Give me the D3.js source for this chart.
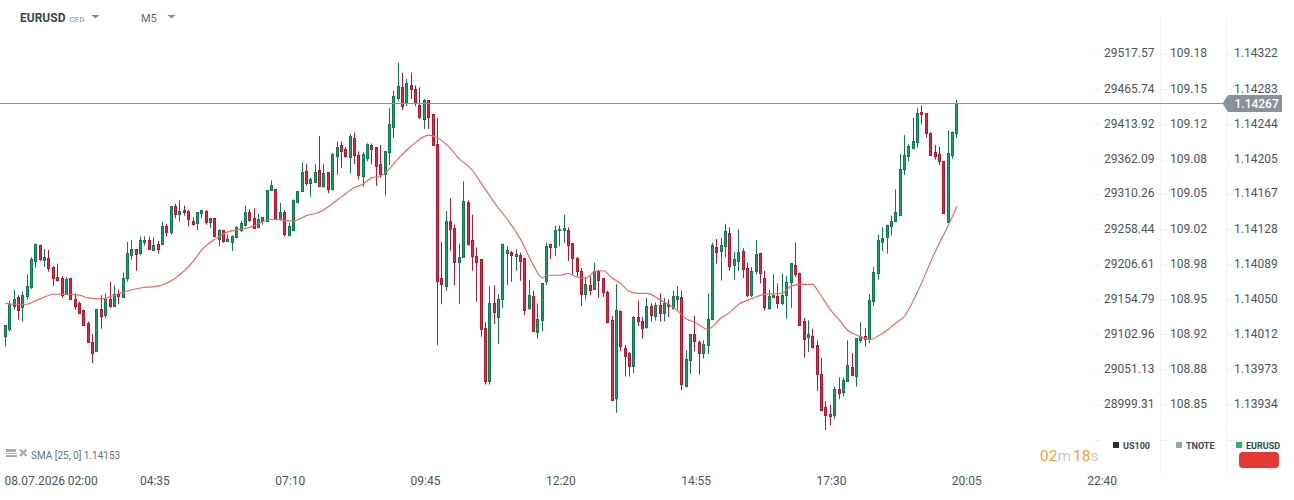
<!DOCTYPE html>
<html>
<head>
<meta charset="utf-8">
<title>EURUSD M5</title>
<script src="https://cdn.jsdelivr.net/npm/d3@7"></script>
<style>
  html, body { margin: 0; padding: 0; background: #fff; }
  svg { display: block; font-family: Roboto, sans-serif; }
</style>
</head>
<body>
<svg id="chart" width="1294" height="500"></svg>
<script>
// Five-minute EURUSD candles, one entry per bar, starting 08.07.2026 02:00.
const opens = [
1.14009,1.14017,1.14043,1.14052,1.14041,1.14053,1.14064,1.14092,1.14110,1.14093,
1.14096,1.14086,1.14075,1.14074,1.14056,1.14073,1.14050,1.14046,1.14038,1.14024,
1.14003,1.13993,1.14039,1.14032,1.14050,1.14043,1.14056,1.14052,1.14073,1.14099,
1.14105,1.14101,1.14113,1.14116,1.14104,1.14111,1.14111,1.14131,1.14124,1.14153,
1.14144,1.14149,1.14148,1.14137,1.14134,1.14145,1.14148,1.14135,1.14140,1.14117,
1.14126,1.14114,1.14113,1.14119,1.14127,1.14132,1.14147,1.14140,1.14130,1.14137,
1.14137,1.14171,1.14172,1.14139,1.14146,1.14121,1.14127,1.14158,1.14170,1.14192,
1.14179,1.14180,1.14193,1.14175,1.14191,1.14172,1.14208,1.14220,1.14216,1.14207,
1.14228,1.14210,1.14186,1.14206,1.14221,1.14218,1.14200,1.14188,1.14213,1.14241,
1.14273,1.14285,1.14268,1.14287,1.14283,1.14265,1.14249,1.14270,1.14255,1.14222,
1.14073,1.14065,1.14137,1.14129,1.14091,1.14097,1.14158,1.14115,1.14098,1.14094,
1.14018,1.13959,1.14046,1.14030,1.14050,1.14101,1.14102,1.14098,1.14099,1.14096,
1.14040,1.14054,1.14014,1.14027,1.14070,1.14111,1.14108,1.14126,1.14126,1.14127,
1.14112,1.14096,1.14081,1.14056,1.14066,1.14061,1.14081,1.14073,1.14058,1.14027,
1.13941,1.14037,1.13996,1.13990,1.13976,1.14030,1.14026,1.14019,1.14042,1.14031,
1.14044,1.14035,1.14045,1.14040,1.14050,1.14052,1.13954,1.13983,1.14011,1.14003,
1.13991,1.13999,1.14028,1.14108,1.14103,1.14109,1.14123,1.14088,1.14092,1.14103,
1.14085,1.14055,1.14081,1.14101,1.14074,1.14040,1.14052,1.14054,1.14046,1.14055,
1.14069,1.14088,1.14079,1.14026,1.14008,1.14009,1.13999,1.13967,1.13931,1.13923,
1.13922,1.13951,1.13947,1.13959,1.13975,1.13965,1.14005,1.14009,1.14006,1.14048,
1.14079,1.14113,1.14119,1.14131,1.14137,1.14143,1.14194,1.14208,1.14217,1.14224,
1.14257,1.14256,1.14234,1.14213,1.14211,1.14203,1.14135,1.14210,1.14234];
const highs = [
1.14021,1.14049,1.14061,1.14055,1.14059,1.14078,1.14097,1.14112,1.14111,1.14106,
1.14105,1.14087,1.14090,1.14076,1.14075,1.14074,1.14057,1.14048,1.14039,1.14026,
1.14012,1.14039,1.14055,1.14057,1.14070,1.14066,1.14061,1.14080,1.14114,1.14116,
1.14106,1.14120,1.14120,1.14120,1.14119,1.14115,1.14136,1.14134,1.14153,1.14156,
1.14160,1.14154,1.14149,1.14141,1.14146,1.14149,1.14149,1.14140,1.14140,1.14128,
1.14126,1.14122,1.14121,1.14131,1.14137,1.14154,1.14150,1.14151,1.14145,1.14141,
1.14171,1.14182,1.14172,1.14157,1.14149,1.14135,1.14161,1.14170,1.14202,1.14200,
1.14185,1.14200,1.14231,1.14200,1.14191,1.14212,1.14225,1.14225,1.14219,1.14233,
1.14235,1.14214,1.14213,1.14223,1.14223,1.14218,1.14221,1.14214,1.14262,1.14281,
1.14312,1.14301,1.14294,1.14301,1.14287,1.14285,1.14272,1.14270,1.14255,1.14251,
1.14114,1.14148,1.14162,1.14133,1.14112,1.14181,1.14160,1.14144,1.14108,1.14094,
1.14025,1.14065,1.14066,1.14056,1.14112,1.14109,1.14104,1.14106,1.14102,1.14096,
1.14072,1.14060,1.14046,1.14068,1.14113,1.14112,1.14132,1.14132,1.14144,1.14130,
1.14112,1.14097,1.14085,1.14075,1.14076,1.14091,1.14083,1.14073,1.14060,1.14032,
1.14067,1.14038,1.14000,1.13992,1.14032,1.14049,1.14031,1.14052,1.14046,1.14047,
1.14057,1.14052,1.14050,1.14060,1.14065,1.14060,1.13994,1.14011,1.14032,1.14005,
1.14005,1.14057,1.14113,1.14117,1.14118,1.14134,1.14130,1.14103,1.14128,1.14107,
1.14091,1.14086,1.14116,1.14102,1.14082,1.14061,1.14078,1.14068,1.14079,1.14076,
1.14090,1.14113,1.14080,1.14030,1.14027,1.14018,1.14005,1.13986,1.13938,1.13934,
1.13954,1.13964,1.13964,1.14005,1.13991,1.14007,1.14025,1.14019,1.14056,1.14086,
1.14122,1.14130,1.14133,1.14143,1.14172,1.14211,1.14232,1.14222,1.14251,1.14262,
1.14265,1.14256,1.14235,1.14221,1.14219,1.14203,1.14237,1.14236,1.14271];
const lows = [
1.13998,1.14015,1.14039,1.14028,1.14026,1.14050,1.14062,1.14085,1.14093,1.14086,
1.14081,1.14065,1.14070,1.14052,1.14056,1.14050,1.14039,1.14034,1.14022,1.14002,
1.13980,1.13992,1.14018,1.14030,1.14041,1.14043,1.14045,1.14052,1.14070,1.14094,
1.14082,1.14099,1.14110,1.14105,1.14104,1.14101,1.14111,1.14120,1.14122,1.14140,
1.14136,1.14143,1.14131,1.14132,1.14127,1.14140,1.14133,1.14129,1.14119,1.14109,
1.14113,1.14114,1.14104,1.14118,1.14125,1.14131,1.14136,1.14128,1.14129,1.14133,
1.14136,1.14171,1.14139,1.14138,1.14120,1.14120,1.14127,1.14157,1.14169,1.14176,
1.14164,1.14180,1.14175,1.14174,1.14168,1.14171,1.14188,1.14196,1.14207,1.14190,
1.14200,1.14183,1.14175,1.14203,1.14200,1.14176,1.14185,1.14165,1.14199,1.14229,
1.14270,1.14260,1.14264,1.14272,1.14264,1.14250,1.14239,1.14239,1.14220,1.14000,
1.14045,1.14060,1.14104,1.14066,1.14045,1.14096,1.14110,1.14082,1.14048,1.14009,
1.13956,1.13956,1.14023,1.14001,1.14041,1.14066,1.14070,1.14082,1.14071,1.14033,
1.14039,1.14014,1.14007,1.14015,1.14066,1.14095,1.14098,1.14109,1.14113,1.14093,
1.14078,1.14076,1.14043,1.14050,1.14055,1.14061,1.14052,1.14053,1.14024,1.13939,
1.13925,1.13993,1.13965,1.13965,1.13969,1.14021,1.14007,1.14018,1.14026,1.14027,
1.14026,1.14026,1.14031,1.14039,1.14039,1.13950,1.13954,1.13968,1.13993,1.13967,
1.13985,1.13990,1.14028,1.14090,1.14071,1.14097,1.14082,1.14072,1.14082,1.14074,
1.14053,1.14053,1.14078,1.14068,1.14038,1.14039,1.14052,1.14040,1.14044,1.14029,
1.14041,1.14075,1.14022,1.13986,1.13992,1.13996,1.13949,1.13928,1.13906,1.13911,
1.13918,1.13940,1.13943,1.13959,1.13966,1.13954,1.14002,1.13998,1.14002,1.14043,
1.14072,1.14104,1.14101,1.14121,1.14137,1.14143,1.14188,1.14203,1.14217,1.14218,
1.14244,1.14229,1.14210,1.14205,1.14199,1.14145,1.14135,1.14206,1.14229];
const closes = [
1.14021,1.14045,1.14050,1.14038,1.14055,1.14065,1.14094,1.14111,1.14095,1.14097,
1.14084,1.14073,1.14071,1.14055,1.14072,1.14050,1.14043,1.14035,1.14022,1.14003,
1.13991,1.14039,1.14031,1.14050,1.14043,1.14056,1.14053,1.14074,1.14101,1.14105,
1.14100,1.14116,1.14116,1.14105,1.14110,1.14105,1.14131,1.14124,1.14153,1.14144,
1.14148,1.14146,1.14139,1.14133,1.14146,1.14149,1.14135,1.14140,1.14120,1.14126,
1.14114,1.14117,1.14120,1.14130,1.14134,1.14147,1.14138,1.14129,1.14139,1.14141,
1.14171,1.14176,1.14139,1.14146,1.14122,1.14131,1.14160,1.14170,1.14191,1.14179,
1.14183,1.14191,1.14175,1.14190,1.14172,1.14211,1.14218,1.14214,1.14208,1.14230,
1.14210,1.14187,1.14211,1.14222,1.14216,1.14197,1.14188,1.14214,1.14244,1.14275,
1.14286,1.14264,1.14289,1.14282,1.14267,1.14251,1.14270,1.14252,1.14220,1.14070,
1.14067,1.14136,1.14128,1.14091,1.14097,1.14159,1.14111,1.14098,1.14091,1.14017,
1.13959,1.14046,1.14036,1.14050,1.14111,1.14104,1.14099,1.14100,1.14092,1.14038,
1.14055,1.14015,1.14028,1.14068,1.14109,1.14108,1.14127,1.14128,1.14129,1.14110,
1.14096,1.14081,1.14056,1.14067,1.14060,1.14081,1.14071,1.14058,1.14025,1.13939,
1.14038,1.13998,1.13987,1.13976,1.14030,1.14026,1.14018,1.14042,1.14033,1.14044,
1.14035,1.14046,1.14042,1.14053,1.14053,1.13956,1.13984,1.14011,1.14004,1.13991,
1.14001,1.14028,1.14110,1.14102,1.14110,1.14125,1.14087,1.14095,1.14102,1.14083,
1.14055,1.14081,1.14100,1.14079,1.14041,1.14054,1.14055,1.14046,1.14055,1.14069,
1.14090,1.14078,1.14022,1.14006,1.14012,1.13997,1.13967,1.13928,1.13922,1.13921,
1.13951,1.13946,1.13961,1.13977,1.13966,1.14007,1.14009,1.14006,1.14049,1.14080,
1.14115,1.14118,1.14132,1.14137,1.14146,1.14194,1.14210,1.14219,1.14225,1.14256,
1.14255,1.14234,1.14210,1.14208,1.14203,1.14145,1.14212,1.14235,1.14267];

// SMA [25, 0] overlay, sampled at the bar indices listed in smaBars.
const smaBars = [0,2,5,7,9,11,14,17,19,22,25,29,31,35,39,43,45,48,51,54,56,61,66,69,72,74,77,80,82,84,86,87,90,93,97,99,102,104,106,107,109,113,115,118,121,123,124,127,129,131,133,135,137,139,141,143,145,147,150,154,156,158,161,162,164,166,168,171,174,178,180,182,185,186,189,191,193,195,198,201,204,206,209,212,214,215,218];
const smaValues = [1.14046,1.14045,1.14045,1.14049,1.14053,1.14056,1.14056,1.14055,1.14052,1.14051,1.14055,1.14061,1.14063,1.14065,1.14074,1.14092,1.14105,1.14117,1.14125,1.14128,1.14130,1.14139,1.14137,1.14143,1.14147,1.14153,1.14164,1.14174,1.14178,1.14185,1.14187,1.14190,1.14206,1.14220,1.14232,1.14229,1.14217,1.14206,1.14198,1.14193,1.14179,1.14151,1.14139,1.14117,1.14088,1.14074,1.14077,1.14077,1.14079,1.14075,1.14074,1.14081,1.14082,1.14074,1.14068,1.14059,1.14057,1.14057,1.14050,1.14038,1.14029,1.14025,1.14017,1.14020,1.14030,1.14036,1.14045,1.14051,1.14056,1.14057,1.14065,1.14067,1.14067,1.14061,1.14039,1.14028,1.14016,1.14011,1.14006,1.14013,1.14024,1.14032,1.14059,1.14092,1.14113,1.14122,1.14153];

// Axis levels and their labels for the three overlaid instruments.
const priceLevels = [1.14322,1.14283,1.14244,1.14205,1.14167,1.14128,1.14089,1.14050,1.14012,1.13973,1.13934,1.13895];
const us100Labels = ["29517.57","29465.74","29413.92","29362.09","29310.26","29258.44","29206.61","29154.79","29102.96","29051.13","28999.31",""];
const tnoteLabels = ["109.18","109.15","109.12","109.08","109.05","109.02","108.98","108.95","108.92","108.88","108.85",""];
const eurusdLabels = ["1.14322","1.14283","1.14244","1.14205","1.14167","1.14128","1.14089","1.14050","1.14012","1.13973","1.13934",""];
const timeLabels = ["08.07.2026 02:00","04:35","07:10","09:45","12:20","14:55","17:30","20:05","22:40"];
const timeBars = [0,31,62,93,124,155,186,217,248];
const lastPrice = 1.14267;

const legendNames = ["US100","TNOTE","EURUSD"];
const legendColors = ["#263238","#90a4ae","#26b27a"];

const svg = d3.select("#chart");

const x = d3.scaleLinear().domain([0, 218]).range([5.3, 956.9]);
const y = d3.scaleLinear().domain([1.14267, 1.13934]).range([103.5, 404.6]);

const GREEN = { fill: "#1a9c6c", edge: "#0d7a50" };
const RED = { fill: "#ea2340", edge: "#b8152e" };
const snap = v => Math.floor(v) + 0.5;

// Light column separators of the price scales
svg.append("g").selectAll("line").data([1160.5, 1226.5]).join("line")
  .attr("x1", d => d).attr("x2", d => d).attr("y1", 18).attr("y2", 475)
  .attr("stroke", "#f1f3f4");

// Candles
const candles = svg.append("g").selectAll("g").data(d3.range(opens.length)).join("g")
  .each(function (i) {
    const up = closes[i] >= opens[i];
    const c = up ? GREEN : RED;
    const g = d3.select(this);
    const cx = snap(x(i));
    g.append("line")
      .attr("x1", cx).attr("x2", cx)
      .attr("y1", y(highs[i])).attr("y2", y(lows[i]))
      .attr("stroke", c.edge).attr("stroke-width", 1);
    const top = snap(y(Math.max(opens[i], closes[i])));
    const bot = snap(y(Math.min(opens[i], closes[i])));
    g.append("rect")
      .attr("x", cx - 1).attr("width", 2)
      .attr("y", top).attr("height", Math.max(1, bot - top))
      .attr("fill", c.fill).attr("stroke", c.edge).attr("stroke-width", 1);
  });

// Moving-average overlay
svg.append("path")
  .datum(d3.range(smaBars.length))
  .attr("fill", "none")
  .attr("stroke", "#f26464")
  .attr("stroke-width", 1.15)
  .attr("stroke-linejoin", "round")
  .attr("d", d3.line().x(i => x(smaBars[i])).y(i => y(smaValues[i])).curve(d3.curveMonotoneX));

// Last-price line
svg.append("line")
  .attr("x1", 0).attr("x2", 1223).attr("y1", y(lastPrice)).attr("y2", y(lastPrice))
  .attr("stroke", "#87929a").attr("stroke-width", 1);

// Price scales: three right-hand axes sharing the same levels
function priceAxis(left, labels, padding) {
  const axis = d3.axisRight(y).tickValues(priceLevels).tickSize(6).tickPadding(padding)
    .tickFormat((d, i) => labels[i]);
  const g = svg.append("g").attr("transform", `translate(${left},0)`).call(axis);
  g.select(".domain").remove();
  g.selectAll(".tick line").attr("stroke", "#eceff1");
  g.selectAll(".tick text")
    .attr("dy", "0.25em")
    .attr("font-family", "Roboto, sans-serif").attr("font-size", 12).attr("fill", "#4b555c");
}
priceAxis(1094, us100Labels, 4);
priceAxis(1161, tnoteLabels, 3);
priceAxis(1227, eurusdLabels, 1);

// Last-price tag on the EURUSD scale
const tagY = y(lastPrice);
svg.append("path")
  .attr("d", `M1222.5,${tagY} L1228,${tagY - 8.5} H1282 V${tagY + 8.5} H1228 Z`)
  .attr("fill", "#87929a");
svg.append("text")
  .attr("x", 1234.5).attr("y", tagY + 4.6)
  .attr("font-size", 12).attr("font-weight", 500).attr("fill", "#fff")
  .text(d3.format(".5f")(lastPrice));

// Time axis
const timeAxis = d3.axisBottom(x).tickValues(timeBars).tickSize(7).tickPadding(2)
  .tickFormat((d, i) => timeLabels[i]);
const tg = svg.append("g").attr("transform", "translate(0,473)").call(timeAxis);
tg.select(".domain").remove();
tg.selectAll(".tick line").attr("stroke", "#f1f3f4");
tg.selectAll(".tick text")
  .attr("text-anchor", "start").attr("x", -1.2).attr("y", 3).attr("dy", "0.71em")
  .attr("font-family", "Roboto, sans-serif").attr("font-size", 12).attr("fill", "#4b555c");

// Instrument and timeframe selectors
const caret = (cx, cy) => `M${cx - 4},${cy} H${cx + 4} L${cx},${cy + 3.5} Z`;
svg.append("text").attr("x", 20).attr("y", 22)
  .attr("font-size", 12).attr("font-weight", 700).attr("fill", "#37474f").text("EURUSD");
svg.append("text").attr("x", 69.5).attr("y", 22)
  .attr("font-size", 8).attr("fill", "#7f8a90").text("CFD");
svg.append("path").attr("d", caret(95.5, 15)).attr("fill", "#7d878c");
svg.append("text").attr("x", 141).attr("y", 22)
  .attr("font-size", 11).attr("fill", "#5f6b71").text("M5");
svg.append("path").attr("d", caret(171.5, 15)).attr("fill", "#7d878c");

// Indicator caption with its small controls
const ctl = svg.append("g").attr("fill", "#a4acb0");
ctl.append("rect").attr("x", 6).attr("y", 449).attr("width", 10).attr("height", 3);
ctl.append("rect").attr("x", 6).attr("y", 453).attr("width", 11).attr("height", 1);
ctl.append("rect").attr("x", 6).attr("y", 455).attr("width", 11).attr("height", 2);
svg.append("path").attr("d", "M20,449.5 L26.5,456 M26.5,449.5 L20,456")
  .attr("stroke", "#a4acb0").attr("stroke-width", 2.2);
svg.append("text").attr("x", 31).attr("y", 459)
  .attr("font-size", 10).attr("fill", "#667178").text("SMA [25, 0] 1.14153");

// Countdown to the close of the current bar
const cd = svg.append("text").attr("x", 1040).attr("y", 461).attr("font-size", 15.5);
[["02", "#f9a02d"], ["m", "#c4cacd"], ["18", "#f9a02d"], ["s", "#c4cacd"]].forEach(([t, c], i) => {
  cd.append("tspan").attr("fill", c).attr("dx", i === 2 ? 2 : 0).text(t);
});

// Instrument legend
const legendX = [1113, 1176, 1236];
legendNames.forEach((name, i) => {
  svg.append("rect").attr("x", legendX[i]).attr("y", 442).attr("width", 6).attr("height", 6)
    .attr("fill", legendColors[i]);
  svg.append("text").attr("x", legendX[i] + 10).attr("y", 448.5)
    .attr("font-size", 9).attr("font-weight", 700).attr("fill", "#37474f").text(name);
});
svg.append("rect").attr("x", 1239).attr("y", 452).attr("width", 40).attr("height", 16)
  .attr("rx", 4).attr("fill", "#e53935");
</script>
</body>
</html>
